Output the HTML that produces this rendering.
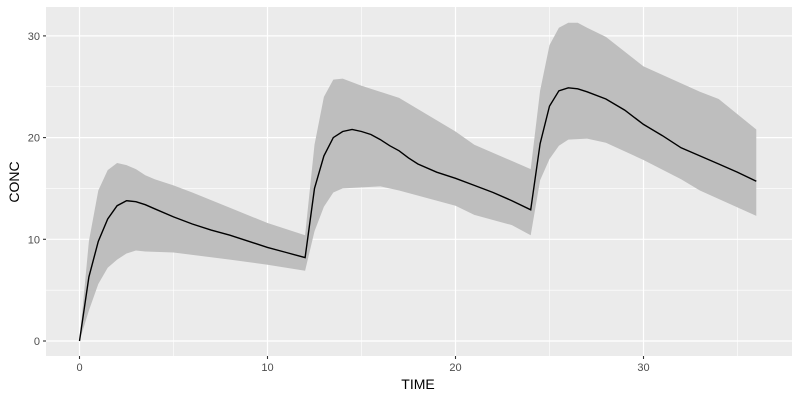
<!DOCTYPE html>
<html><head><style>body{margin:0;background:#fff}svg{display:block;font-family:"Liberation Sans",sans-serif}</style></head>
<body>
<svg id="s" width="800" height="400" xmlns="http://www.w3.org/2000/svg">
<rect x="46" y="7" width="746" height="349" fill="#ebebeb"/>
<g id="g"></g>
<text x="418" y="389" font-size="14" text-anchor="middle" fill="#000">TIME</text>
<text transform="translate(19,182) rotate(-90)" font-size="14" text-anchor="middle" fill="#000">CONC</text>
</svg>
<script>
const X=t=>79.5+18.8*t, Y=c=>341-10.17*c;
let h='';
for(const t of [5,15,25,35]) h+=`<line x1="${X(t)}" x2="${X(t)}" y1="7" y2="356" stroke="#fff" stroke-width="0.6"/>`;
for(const c of [5,15,25]) h+=`<line x1="46" x2="792" y1="${Y(c)}" y2="${Y(c)}" stroke="#fff" stroke-width="0.6"/>`;
for(const t of [0,10,20,30]){h+=`<line x1="${X(t)}" x2="${X(t)}" y1="7" y2="356" stroke="#fff" stroke-width="1.2"/><line x1="${X(t)}" x2="${X(t)}" y1="356" y2="359" stroke="#333" stroke-width="1.1"/><text x="${X(t)}" y="371" font-size="11" fill="#4d4d4d" text-anchor="middle">${t}</text>`;}
for(const c of [0,10,20,30]){h+=`<line x1="46" x2="792" y1="${Y(c)}" y2="${Y(c)}" stroke="#fff" stroke-width="1.2"/><line x1="43" x2="46" y1="${Y(c)}" y2="${Y(c)}" stroke="#333" stroke-width="1.1"/><text x="40" y="${Y(c)+4}" font-size="11" fill="#4d4d4d" text-anchor="end">${c}</text>`;}
const up=[[0,0],[0.5,9.8],[1,14.8],[1.5,16.8],[2,17.5],[2.5,17.3],[3,16.9],[3.5,16.3],[4,15.9],[5,15.3],[6,14.6],[8,13.1],[10,11.6],[12,10.4],[12.5,19.3],[13,24],[13.5,25.7],[14,25.8],[15,25.1],[17,23.9],[20,20.6],[21,19.3],[24,16.9],[24.5,24.6],[25,29.1],[25.5,30.8],[26,31.3],[26.5,31.3],[27,30.8],[28,29.9],[30,27],[33,24.5],[34,23.8],[36,20.8]];
const lo=[[0,0],[0.5,3],[1,5.6],[1.5,7.2],[2,8],[2.5,8.6],[3,8.9],[3.5,8.8],[5,8.7],[8,8],[10,7.5],[12,6.9],[12.5,10.8],[13,13.2],[13.5,14.6],[14,15],[16,15.2],[17,14.8],[20,13.3],[21,12.4],[23,11.4],[24,10.4],[24.5,15.8],[25,17.9],[25.5,19.2],[26,19.8],[27,19.9],[28,19.5],[30,17.8],[32,15.9],[33,14.8],[36,12.3]];
const md=[[0,0],[0.5,6.3],[1,9.8],[1.5,12],[2,13.3],[2.5,13.8],[3,13.7],[3.5,13.4],[4,13],[5,12.2],[6,11.5],[7,10.9],[8,10.4],[9,9.8],[10,9.2],[11,8.7],[12,8.2],[12.5,15],[13,18.2],[13.5,20],[14,20.6],[14.5,20.8],[15,20.6],[15.5,20.3],[16,19.8],[16.5,19.2],[17,18.7],[17.5,18],[18,17.4],[19,16.6],[20,16],[21,15.3],[22,14.6],[23,13.8],[24,12.9],[24.5,19.4],[25,23.1],[25.5,24.6],[26,24.9],[26.5,24.8],[27,24.5],[28,23.8],[29,22.7],[30,21.3],[31,20.2],[32,19],[33,18.2],[34,17.4],[35,16.6],[36,15.7]];
const P=a=>a.map(p=>X(p[0]).toFixed(1)+','+Y(p[1]).toFixed(1)).join(' ');
h+=`<polygon points="${P(up)} ${P(lo.slice().reverse())}" fill="#bebebe"/>`;
h+=`<polyline points="${P(md)}" fill="none" stroke="#000" stroke-width="1.4"/>`;
document.getElementById('g').innerHTML=h;
</script>
</body></html>
